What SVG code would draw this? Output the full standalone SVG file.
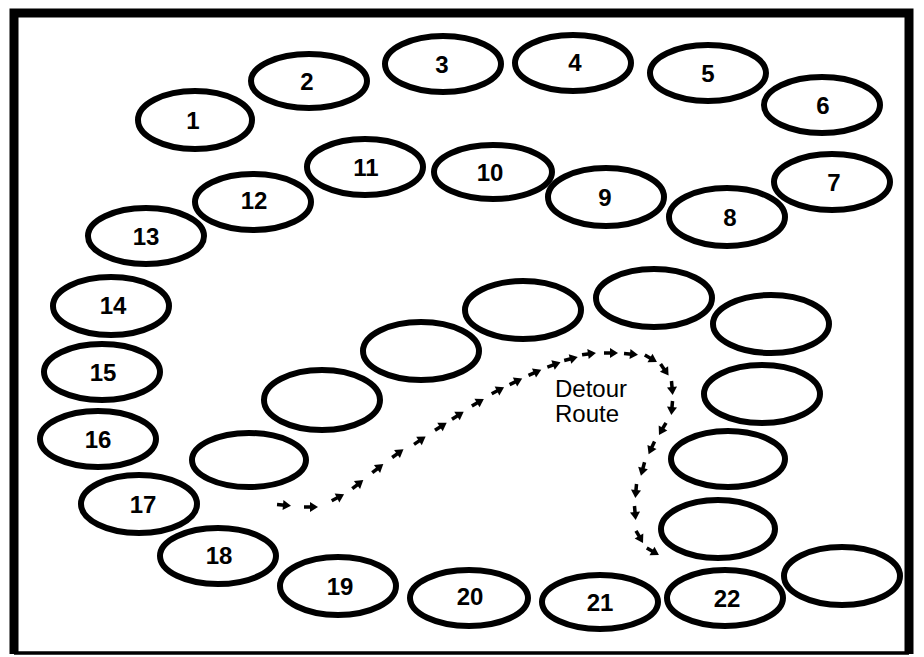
<svg xmlns="http://www.w3.org/2000/svg" xmlns:xlink="http://www.w3.org/1999/xlink" width="924" height="657" viewBox="0 0 924 657">
<style>
.n ellipse{fill:none;stroke:#000;stroke-width:6}
.n text{font-family:"Liberation Sans","DejaVu Sans",sans-serif;font-size:24px;font-weight:bold;text-anchor:middle;fill:#000}
.lbl{font-family:"Liberation Sans","DejaVu Sans",sans-serif;font-size:24px;fill:#000}
.frame{fill:none;stroke:#000}
</style>
<defs>
<g id="ar"><path d="M-6,0H2" stroke="#000" stroke-width="3.5" fill="none"/><polygon points="0,-5 8,0 0,5" fill="#000"/></g>
</defs>
<rect width="924" height="657" fill="#fff"/>
<path class="frame" d="M14,654V13H909V654" stroke-width="9"/>
<path class="frame" d="M14,653H909" stroke-width="3.5"/>
<g id="n1" class="n"><ellipse cx="195" cy="120" rx="57" ry="29"/><text x="193" y="129">1</text></g>
<g id="n2" class="n"><ellipse cx="309" cy="81" rx="58" ry="27"/><text x="307" y="90">2</text></g>
<g id="n3" class="n"><ellipse cx="443" cy="64" rx="58" ry="28"/><text x="442" y="73">3</text></g>
<g id="n4" class="n"><ellipse cx="573" cy="63" rx="58" ry="28"/><text x="575" y="71">4</text></g>
<g id="n5" class="n"><ellipse cx="708" cy="73" rx="58" ry="28"/><text x="708" y="82">5</text></g>
<g id="n6" class="n"><ellipse cx="822" cy="105" rx="58" ry="28"/><text x="823" y="114">6</text></g>
<g id="n7" class="n"><ellipse cx="832" cy="182" rx="58" ry="28"/><text x="834" y="191">7</text></g>
<g id="n8" class="n"><ellipse cx="727" cy="217" rx="58" ry="29"/><text x="730" y="226">8</text></g>
<g id="n9" class="n"><ellipse cx="606" cy="197" rx="58" ry="29"/><text x="605" y="206">9</text></g>
<g id="n10" class="n"><ellipse cx="493" cy="172" rx="59" ry="27"/><text x="490" y="181">10</text></g>
<g id="n11" class="n"><ellipse cx="365" cy="167" rx="58" ry="28"/><text x="366" y="176">11</text></g>
<g id="n12" class="n"><ellipse cx="253" cy="202" rx="58" ry="28"/><text x="254" y="209">12</text></g>
<g id="n13" class="n"><ellipse cx="146" cy="236" rx="58" ry="28"/><text x="146" y="245">13</text></g>
<g id="n14" class="n"><ellipse cx="111" cy="306" rx="58" ry="29"/><text x="113" y="314">14</text></g>
<g id="n15" class="n"><ellipse cx="102" cy="372" rx="58" ry="28"/><text x="103" y="381">15</text></g>
<g id="n16" class="n"><ellipse cx="98" cy="439" rx="58" ry="28"/><text x="98" y="448">16</text></g>
<g id="n17" class="n"><ellipse cx="139" cy="504" rx="58" ry="29"/><text x="143" y="513">17</text></g>
<g id="n18" class="n"><ellipse cx="218" cy="556" rx="58" ry="28"/><text x="219" y="564">18</text></g>
<g id="n19" class="n"><ellipse cx="338" cy="586" rx="58" ry="29"/><text x="340" y="595">19</text></g>
<g id="n20" class="n"><ellipse cx="469" cy="598" rx="59" ry="28"/><text x="470" y="605">20</text></g>
<g id="n21" class="n"><ellipse cx="600" cy="602" rx="58" ry="27"/><text x="600" y="611">21</text></g>
<g id="n22" class="n"><ellipse cx="725" cy="598" rx="58" ry="28"/><text x="727" y="607">22</text></g>
<g id="n23" class="n"><ellipse cx="842" cy="576" rx="58" ry="29"/></g>
<g id="d1" class="n"><ellipse cx="249" cy="460" rx="57" ry="27"/></g>
<g id="d2" class="n"><ellipse cx="322" cy="400" rx="58" ry="30"/></g>
<g id="d3" class="n"><ellipse cx="421" cy="351" rx="58" ry="29"/></g>
<g id="d4" class="n"><ellipse cx="523" cy="310" rx="58" ry="29"/></g>
<g id="d5" class="n"><ellipse cx="654" cy="298" rx="58" ry="29"/></g>
<g id="d6" class="n"><ellipse cx="771" cy="324" rx="58" ry="29"/></g>
<g id="d7" class="n"><ellipse cx="762" cy="394" rx="58" ry="29"/></g>
<g id="d8" class="n"><ellipse cx="728" cy="459" rx="57" ry="28"/></g>
<g id="d9" class="n"><ellipse cx="718" cy="529" rx="57" ry="29"/></g>
<g id="connectors">
<use xlink:href="#ar" transform="translate(283,505) rotate(5)"/>
<use xlink:href="#ar" transform="translate(310,507) rotate(0)"/>
<use xlink:href="#ar" transform="translate(337,498) rotate(-28)"/>
<use xlink:href="#ar" transform="translate(357,485) rotate(-38)"/>
<use xlink:href="#ar" transform="translate(377,469) rotate(-38)"/>
<use xlink:href="#ar" transform="translate(397,454) rotate(-36)"/>
<use xlink:href="#ar" transform="translate(419,441) rotate(-34)"/>
<use xlink:href="#ar" transform="translate(440,427) rotate(-33)"/>
<use xlink:href="#ar" transform="translate(457,416) rotate(-33)"/>
<use xlink:href="#ar" transform="translate(477,403) rotate(-31)"/>
<use xlink:href="#ar" transform="translate(497,391) rotate(-28)"/>
<use xlink:href="#ar" transform="translate(515,382) rotate(-26)"/>
<use xlink:href="#ar" transform="translate(534,373) rotate(-24)"/>
<use xlink:href="#ar" transform="translate(553,365) rotate(-20)"/>
<use xlink:href="#ar" transform="translate(570,359) rotate(-15)"/>
<use xlink:href="#ar" transform="translate(588,354) rotate(-8)"/>
<use xlink:href="#ar" transform="translate(610,353) rotate(0)"/>
<use xlink:href="#ar" transform="translate(630,354) rotate(5)"/>
<use xlink:href="#ar" transform="translate(650,358) rotate(30)"/>
<use xlink:href="#ar" transform="translate(664,369) rotate(55)"/>
<use xlink:href="#ar" transform="translate(672,387) rotate(85)"/>
<use xlink:href="#ar" transform="translate(672,407) rotate(95)"/>
<use xlink:href="#ar" transform="translate(663,428) rotate(120)"/>
<use xlink:href="#ar" transform="translate(652,447) rotate(115)"/>
<use xlink:href="#ar" transform="translate(643,468) rotate(105)"/>
<use xlink:href="#ar" transform="translate(636,490) rotate(95)"/>
<use xlink:href="#ar" transform="translate(635,512) rotate(85)"/>
<use xlink:href="#ar" transform="translate(639,536) rotate(60)"/>
<use xlink:href="#ar" transform="translate(652,551) rotate(30)"/>
</g>
<text class="lbl" x="555" y="397">Detour</text>
<text class="lbl" x="555" y="422">Route</text>
</svg>
